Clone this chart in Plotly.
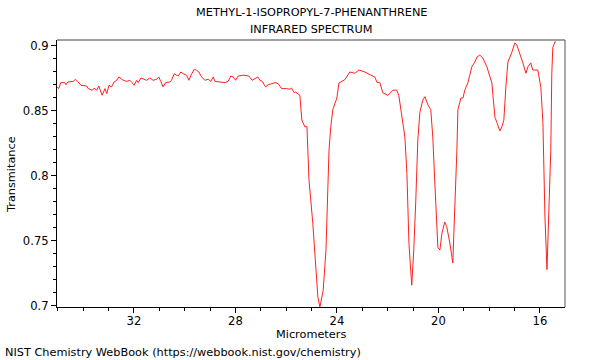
import plotly.graph_objects as go

wavelength_um = [35.03, 34.96, 34.88, 34.72, 34.68, 34.60, 34.39, 34.30, 34.22, 34.09,
                 33.86, 33.80, 33.64, 33.56, 33.47, 33.38, 33.30, 33.25, 33.14, 33.07,
                 32.98, 32.88, 32.78, 32.68, 32.59, 32.51, 32.42, 32.29, 32.16, 32.07,
                 31.99, 31.89, 31.83, 31.72, 31.63, 31.50, 31.37, 31.24, 31.10, 31.02,
                 30.94, 30.85, 30.75, 30.58, 30.52, 30.41, 30.32, 30.25, 30.15, 30.06,
                 29.92, 29.83, 29.75, 29.62, 29.53, 29.44, 29.33, 29.20, 29.07, 28.97,
                 28.87, 28.81, 28.61, 28.41, 28.28, 28.18, 28.09, 27.99, 27.89, 27.69,
                 27.47, 27.34, 27.23, 27.12, 27.03, 26.94, 26.81, 26.71, 26.57, 26.44,
                 26.31, 26.18, 25.98, 25.85, 25.79, 25.68, 25.63, 25.55, 25.46,
                 25.38, 25.26, 25.18, 25.10, 24.95, 24.87, 24.75, 24.67, 24.54, 24.43,
                 24.39, 24.31, 24.24, 24.16, 24.00, 23.92, 23.69, 23.49, 23.29, 23.13,
                 22.90, 22.70, 22.50, 22.42, 22.31, 22.19, 21.99, 21.79, 21.64, 21.56,
                 21.44, 21.32, 21.24, 21.20, 21.16, 21.05, 20.97, 20.89, 20.85, 20.81,
                 20.73, 20.61, 20.53, 20.41, 20.30, 20.22, 20.14, 20.02, 19.94, 19.86,
                 19.75, 19.67, 19.55, 19.43, 19.39, 19.31, 19.27, 19.23, 19.11, 19.03,
                 18.96, 18.84, 18.68, 18.56, 18.48, 18.37, 18.25, 18.09, 17.97, 17.89,
                 17.85, 17.77, 17.69, 17.58, 17.50, 17.42, 17.34, 17.26, 17.10, 16.99,
                 16.91, 16.79, 16.67, 16.55, 16.47, 16.36, 16.28, 16.08, 15.96, 15.88,
                 15.80, 15.72, 15.65, 15.57, 15.53, 15.49, 15.37, 15.02]

transmittance = [0.8685, 0.8672, 0.8718, 0.8718, 0.8702, 0.8723, 0.8728, 0.8744, 0.8728, 0.8698,
                 0.8692, 0.8672, 0.8659, 0.8677, 0.8659, 0.8692, 0.8646, 0.8621, 0.8672, 0.8633,
                 0.8698, 0.8685, 0.8723, 0.8736, 0.8762, 0.8748, 0.8736, 0.8728, 0.8736, 0.8718,
                 0.8698, 0.8736, 0.8718, 0.8754, 0.8748, 0.8736, 0.8754, 0.8736, 0.8744, 0.8762,
                 0.8728, 0.8685, 0.8718, 0.8723, 0.8736, 0.8787, 0.8775, 0.8769, 0.8800, 0.8787,
                 0.8775, 0.8736, 0.8775, 0.8821, 0.8813, 0.8800, 0.8762, 0.8736, 0.8744, 0.8728,
                 0.8762, 0.8728, 0.8723, 0.8718, 0.8728, 0.8769, 0.8762, 0.8736, 0.8769, 0.8775,
                 0.8769, 0.8736, 0.8748, 0.8762, 0.8736, 0.8728, 0.8685, 0.8702, 0.8710, 0.8718,
                 0.8710, 0.8672, 0.8672, 0.8667, 0.8677, 0.8641, 0.8646, 0.8633, 0.8621,
                 0.843, 0.8377, 0.838, 0.797, 0.764, 0.738, 0.707, 0.699, 0.712, 0.743,
                 0.768, 0.820, 0.838, 0.851, 0.860, 0.8715, 0.874, 0.880, 0.879, 0.8815,
                 0.880, 0.8777, 0.876, 0.872, 0.872, 0.864, 0.862, 0.866, 0.866, 0.862,
                 0.845, 0.830, 0.802, 0.7815, 0.748, 0.716, 0.743, 0.7815, 0.805, 0.8277,
                 0.849, 0.8585, 0.861, 0.8546, 0.851, 0.830, 0.7946, 0.745, 0.743, 0.756,
                 0.7646, 0.761, 0.7485, 0.733, 0.756, 0.7946, 0.820, 0.851, 0.860, 0.860,
                 0.866, 0.8715, 0.884, 0.8877, 0.8915, 0.893, 0.8908, 0.884, 0.876, 0.8715,
                 0.862, 0.845, 0.841, 0.8346, 0.8377, 0.843, 0.8685, 0.8877, 0.8954, 0.9023,
                 0.9008, 0.8946, 0.887, 0.879, 0.884, 0.887, 0.8815, 0.8815, 0.868, 0.841,
                 0.7685, 0.728, 0.7685, 0.820, 0.879, 0.899, 0.9046, 0.9046]

x_ticks = [32, 28, 24, 20, 16]
y_ticks = [0.7, 0.75, 0.8, 0.85, 0.9]
y_tick_labels = ["0.7", "0.75", "0.8", "0.85", "0.9"]

FONT = "DejaVu Sans"
FS = 11.3
PH = 267.0  # plot height px
PW = 508.0  # plot width px

fig = go.Figure()
fig.add_trace(go.Scatter(x=wavelength_um, y=transmittance, mode="lines",
                         line=dict(color="#ff2020", width=1), hoverinfo="skip"))

fig.update_layout(
    width=600, height=360,
    margin=dict(l=57, r=35, t=40, b=53, autoexpand=False),
    paper_bgcolor="white", plot_bgcolor="white",
    showlegend=False,
    font=dict(family=FONT, size=FS, color="black"),
    xaxis=dict(range=[35.03, 15.01], tickvals=x_ticks, ticks="outside", ticklen=5,
               tickcolor="black", showline=True, linecolor="black", linewidth=1,
               showgrid=False, zeroline=False, automargin=False,
               ticklabelstandoff=-2,
               minor=dict(dtick=1, ticks="outside", ticklen=3, tickcolor="black"),
               tickfont=dict(family=FONT, size=11.6)),
    yaxis=dict(range=[0.6992, 0.9046], tickvals=y_ticks, ticktext=y_tick_labels,
               ticks="outside", ticklen=5, tickcolor="black", showline=True,
               linecolor="black", linewidth=1, showgrid=False, zeroline=False,
               automargin=False,
               minor=dict(dtick=0.01, ticks="outside", ticklen=3, tickcolor="black"),
               tickfont=dict(family=FONT, size=11.6)),
)

fig.add_shape(type="line", xref="paper", yref="paper", x0=0, x1=1, y0=1, y1=1,
              line=dict(color="#a0a0a0", width=2))
fig.add_shape(type="line", xref="paper", yref="paper", x0=1, x1=1, y0=0, y1=1,
              line=dict(color="#555555", width=1))

def ann(text, px, py, xanchor="center", angle=0):
    fig.add_annotation(text=text, xref="paper", yref="paper",
                       x=(px - 57) / PW, y=(307 - py) / PH,
                       xanchor=xanchor, yanchor="middle", showarrow=False,
                       textangle=angle, font=dict(family=FONT, size=FS, color="black"))

ann("METHYL-1-ISOPROPYL-7-PHENANTHRENE", 312, 13)
ann("INFRARED SPECTRUM", 311, 30)
ann("Micrometers", 311, 334)
ann("Transmitance", 11, 175, angle=-90)
ann("NIST Chemistry WebBook (https://webbook.nist.gov/chemistry)", 3, 352, xanchor="left")

fig.write_html("out.html", config={"displayModeBar": False},
               post_script="document.body.style.margin='0px';")
